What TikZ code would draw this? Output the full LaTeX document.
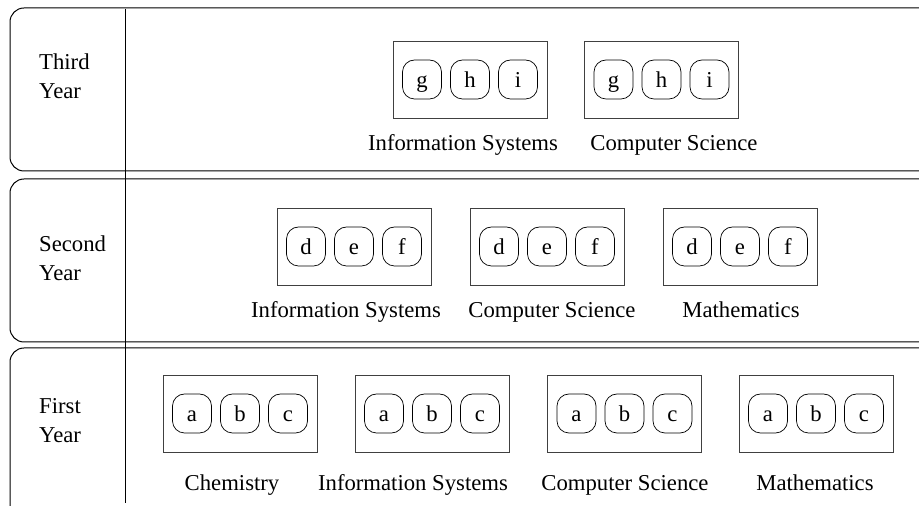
\documentclass[tikz,border=0pt]{standalone}
\usepackage{fontspec}
\setmainfont{Liberation Serif}
\usetikzlibrary{positioning}
\tikzset{
    lane/.style={draw, line width=1pt, rounded corners=14pt},
    yearName/.style={anchor=west, align=left, inner sep=0pt, font=\fontsize{22.7}{29}\selectfont},
    courseBox/.style={draw=black!75, line width=0.9pt, minimum width=154pt, minimum height=77pt, inner sep=0pt},
    item/.style={draw, line width=0.7pt, rounded corners=12pt, minimum width=39pt, minimum height=39pt,
        inner sep=0pt, text height=16pt, text depth=0pt, font=\fontsize{22.7}{27}\selectfont},
    courseName/.style={anchor=base, inner sep=0pt, font=\fontsize{22.7}{27}\selectfont},
}
\tikzset{
    course/.pic={
        \node[courseBox] (-box) at (0,0) {};
        \foreach \l [count=\i] in {#1}
            \node[item] (-\l) at ({(\i-2)*48},0) {\l};
    }
}
\begin{document}
\begin{tikzpicture}[x=1pt,y=1pt]
    \useasboundingbox (0,0) rectangle (919,506);
    \clip (0,0) rectangle (919,506);
    % swimlanes
    \draw[lane] (10,335) rectangle (945,498);
    \draw[lane] (10,164) rectangle (945,327);
    \draw[lane] (10,-30) rectangle (945,158);
    \draw[line width=0.9pt] (125,497) -- (125,3);
    \node[yearName] (third) at (39,430) {Third\\Year};
    \node[yearName] (second) at (39,248) {Second\\Year};
    \node[yearName] (first) at (39,85) {First\\Year};
    % third year
    \pic (isThird) at (470,426.5) {course={g,h,i}};
    \pic (csThird) at (661.5,426.5) {course={g,h,i}};
    \node[courseName] (isThirdName) at (463,355) {Information Systems};
    \node[courseName] (csThirdName) at (674,355) {Computer Science};
    % second year
    \pic (isSecond) at (354,259.5) {course={d,e,f}};
    \pic (csSecond) at (547,259.5) {course={d,e,f}};
    \pic (maSecond) at (740,259.5) {course={d,e,f}};
    \node[courseName] (isSecondName) at (346,188) {Information Systems};
    \node[courseName] (csSecondName) at (552,188) {Computer Science};
    \node[courseName] (maSecondName) at (741,188) {Mathematics};
    % first year
    \pic (chFirst) at (240,92.5) {course={a,b,c}};
    \pic (isFirst) at (432,92.5) {course={a,b,c}};
    \pic (csFirst) at (624.5,92.5) {course={a,b,c}};
    \pic (maFirst) at (816,92.5) {course={a,b,c}};
    \node[courseName] (chFirstName) at (232,15) {Chemistry};
    \node[courseName] (isFirstName) at (413,15) {Information Systems};
    \node[courseName] (csFirstName) at (625,15) {Computer Science};
    \node[courseName] (maFirstName) at (815,15) {Mathematics};
\end{tikzpicture}
\end{document}
